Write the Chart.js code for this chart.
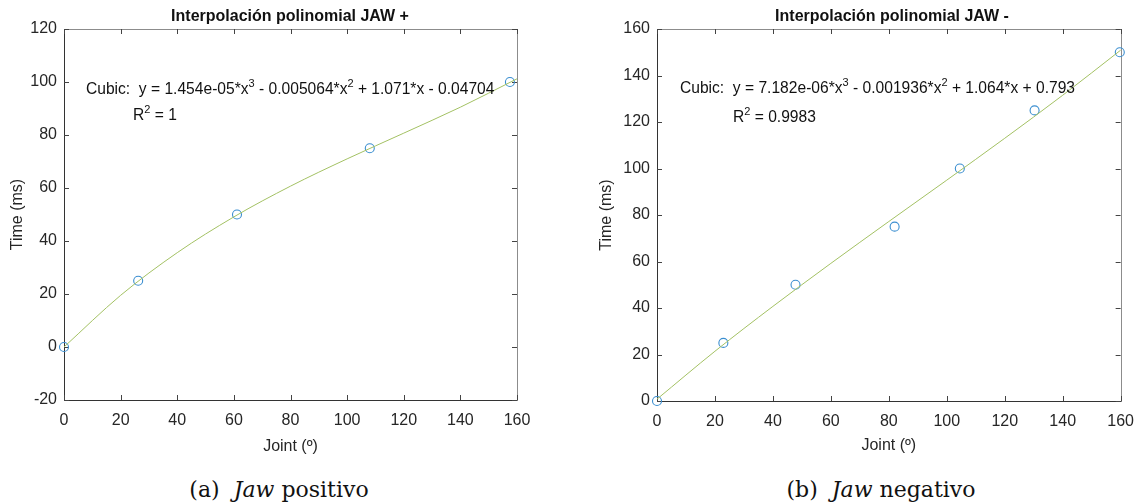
<!DOCTYPE html>
<html>
<head>
<meta charset="utf-8">
<script src="https://cdn.jsdelivr.net/npm/chart.js@4.4.1/dist/chart.umd.min.js"></script>
<style>
  html, body { margin:0; padding:0; background:#ffffff; }
  body { width:1145px; height:504px; position:relative; overflow:hidden; font-family:"Liberation Sans", Arial, sans-serif; }
  canvas { position:absolute; top:0; }
  .title { position:absolute; font-weight:bold; font-size:16px; line-height:18px; color:#111; white-space:nowrap; transform:translateX(-50%); }
  .ann { position:absolute; font-size:15.6px; line-height:18px; color:#111; white-space:pre; }
  .ann sup { font-size:11px; position:relative; top:-7px; vertical-align:baseline; line-height:0; }
  .cap { position:absolute; font-family:"DejaVu Serif", "Liberation Serif", serif; font-size:22px; line-height:26px; color:#111; white-space:pre; transform:translateX(-50%); }
  .cap i { font-style:italic; }
</style>
</head>
<body>
<canvas id="c1" width="560" height="460" style="left:0px"></canvas>
<canvas id="c2" width="573" height="460" style="left:572px"></canvas>

<div class="title" style="left:290px; top:7px;">Interpolación polinomial JAW +</div>
<div class="title" style="left:892px; top:7px;">Interpolación polinomial JAW -</div>

<div class="ann" style="left:86px; top:80px;">Cubic:  y = 1.454e-05*x<sup>3</sup> - 0.005064*x<sup>2</sup> + 1.071*x - 0.04704</div>
<div class="ann" style="left:133px; top:106px;">R<sup>2</sup> = 1</div>

<div class="ann" style="left:680px; top:79px;">Cubic:  y = 7.182e-06*x<sup>3</sup> - 0.001936*x<sup>2</sup> + 1.064*x + 0.793</div>
<div class="ann" style="left:733px; top:108px;">R<sup>2</sup> = 0.9983</div>

<div class="cap" style="left:279px; top:477px;">(a)  <i>Jaw</i> positivo</div>
<div class="cap" style="left:881px; top:477px;">(b)  <i>Jaw</i> negativo</div>

<script>
// ---- Data ----
const posJoint = [0, 26.2, 61.1, 108, 157.5];
const posTime  = [0, 25, 50, 75, 100];
const posFitJoint = [0, 20, 40, 60, 80, 100, 120, 140, 160];
const posFitTime  = [0, 19.5, 35.6, 49.1, 60.7, 71.0, 80.7, 90.5, 101.2];

const negJoint = [0, 22.9, 47.8, 82, 104.5, 130.3, 159.7];
const negTime  = [0, 25, 50, 75, 100, 125, 150];
const negFitJoint = [0, 20, 40, 60, 80, 100, 120, 140, 160];
const negFitTime  = [0.8, 21.4, 40.7, 59.2, 77.2, 95.0, 113.0, 131.5, 150.9];

const xTicks = [0, 20, 40, 60, 80, 100, 120, 140, 160];
const posYTicks = [-20, 0, 20, 40, 60, 80, 100, 120];
const negYTicks = [0, 20, 40, 60, 80, 100, 120, 140, 160];

const xLabel = 'Joint (º)';
const yLabel = 'Time (ms)';

const FIT_COLOR = '#a3c163';
const PT_COLOR = '#3a8ed0';
const TXT = '#262626';
const FONT = '"Liberation Sans", Arial, sans-serif';

function pairs(xs, ys) { return xs.map((x, i) => ({x: x, y: ys[i]})); }

const boxPlugin = {
  id: 'boxTicks',
  beforeDatasetsDraw(chart) {
    const ctx = chart.ctx, a = chart.chartArea;
    const xs = chart.scales.x, ys = chart.scales.y;
    const L = 5;
    ctx.save();
    ctx.lineWidth = 1;
    ctx.strokeStyle = '#8c8c8c';
    ctx.beginPath();
    ctx.moveTo(Math.round(a.left) + 0.5, Math.round(a.top) + 0.5);
    ctx.lineTo(Math.round(a.right) + 0.5, Math.round(a.top) + 0.5);
    ctx.lineTo(Math.round(a.right) + 0.5, Math.round(a.bottom) + 0.5);
    ctx.stroke();
    ctx.strokeStyle = '#333333';
    ctx.beginPath();
    ctx.moveTo(Math.round(a.left) + 0.5, Math.round(a.top) + 0.5);
    ctx.lineTo(Math.round(a.left) + 0.5, Math.round(a.bottom) + 0.5);
    ctx.lineTo(Math.round(a.right) + 0.5, Math.round(a.bottom) + 0.5);
    ctx.stroke();
    ctx.strokeStyle = '#444444';
    ctx.beginPath();
    xs.ticks.forEach(t => {
      const px = Math.round(xs.getPixelForValue(t.value)) + 0.5;
      ctx.moveTo(px, a.bottom); ctx.lineTo(px, a.bottom - L);
      ctx.moveTo(px, a.top); ctx.lineTo(px, a.top + L);
    });
    ys.ticks.forEach(t => {
      const py = Math.round(ys.getPixelForValue(t.value)) + 0.5;
      ctx.moveTo(a.left, py); ctx.lineTo(a.left + L, py);
      ctx.moveTo(a.right, py); ctx.lineTo(a.right - L, py);
    });
    ctx.stroke();
    ctx.restore();
  }
};

function makeChart(id, cfg) {
  return new Chart(document.getElementById(id), {
    type: 'scatter',
    data: {
      datasets: [
        {
          label: 'fit',
          data: pairs(cfg.fitX, cfg.fitY),
          showLine: true,
          borderColor: FIT_COLOR,
          borderWidth: 1,
          pointRadius: 0,
          fill: false,
          clip: false,
          cubicInterpolationMode: 'monotone'
        },
        {
          label: 'data',
          data: pairs(cfg.ptX, cfg.ptY),
          showLine: false,
          clip: false,
          pointStyle: 'circle',
          pointRadius: 4.5,
          borderColor: PT_COLOR,
          backgroundColor: 'rgba(0,0,0,0)',
          borderWidth: 1.1
        }
      ]
    },
    options: {
      responsive: false,
      animation: false,
      devicePixelRatio: 1,
      layout: { padding: { left: 0, right: cfg.padRight, top: 29, bottom: 0 } },
      plugins: { legend: { display: false }, tooltip: { enabled: false }, title: { display: false } },
      scales: {
        x: {
          type: 'linear',
          min: xTicks[0], max: xTicks[xTicks.length - 1],
          afterBuildTicks: s => { s.ticks = xTicks.map(v => ({value: v})); },
          afterFit: s => { s.height = cfg.xHeight; },
          grid: { display: false, drawTicks: false },
          border: { display: false },
          ticks: { color: TXT, font: { family: FONT, size: 16 }, padding: 11, maxRotation: 0, autoSkip: false },
          title: { display: true, text: xLabel, color: TXT, font: { family: FONT, size: 16 }, padding: { top: 0, bottom: cfg.xTitlePad } }
        },
        y: {
          type: 'linear',
          min: cfg.yTicks[0], max: cfg.yTicks[cfg.yTicks.length - 1],
          afterBuildTicks: s => { s.ticks = cfg.yTicks.map(v => ({value: v})); },
          afterFit: s => { s.width = cfg.yWidth; },
          grid: { display: false, drawTicks: false },
          border: { display: false },
          ticks: { color: TXT, font: { family: FONT, size: 16 }, padding: 7, autoSkip: false },
          title: { display: true, text: yLabel, color: TXT, font: { family: FONT, size: 16 }, padding: { top: cfg.yTitlePad, bottom: 0 } }
        }
      }
    },
    plugins: [boxPlugin]
  });
}

makeChart('c1', {
  fitX: posFitJoint, fitY: posFitTime, ptX: posJoint, ptY: posTime,
  yTicks: posYTicks, padRight: 43, yWidth: 64, xHeight: 60, xTitlePad: 3.5, yTitlePad: 8.4
});
makeChart('c2', {
  fitX: negFitJoint, fitY: negFitTime, ptX: negJoint, ptY: negTime,
  yTicks: negYTicks, padRight: 17, yWidth: 85, xHeight: 59, xTitlePad: 4.5, yTitlePad: 25.4
});
</script>
</body>
</html>
